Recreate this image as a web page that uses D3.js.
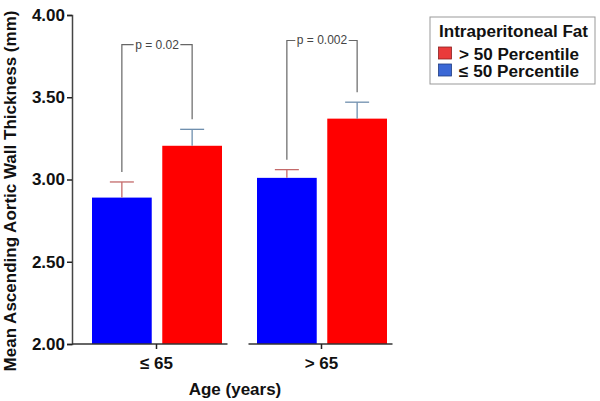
<!DOCTYPE html>
<html><head><meta charset="utf-8">
<script src="https://cdn.jsdelivr.net/npm/d3@7"></script>
<style>body{margin:0;background:#fff}svg{display:block}text{font-family:"Liberation Sans",Arial,sans-serif}</style>
</head><body><svg id="c" width="600" height="401"></svg>
<script>
const categories = ["≤ 65", "> 65"];
const series = ["≤ 50 Percentile", "> 50 Percentile"];
const lowValues = [2.89, 3.01];   // ≤ 50 percentile
const highValues = [3.205, 3.37]; // > 50 percentile
const lowErr = [0.095, 0.05];
const highErr = [0.10, 0.10];
const pLabels = ["p = 0.02", "p = 0.002"];
const bracketLevels = [3.82, 3.845];
const yTicks = [2.0, 2.5, 3.0, 3.5, 4.0];

const svg = d3.select("#c");
const y = d3.scaleLinear().domain([2, 4]).range([344, 15]);
const x0 = d3.scaleBand().domain(categories).range([74, 404]);
const x1 = d3.scaleBand().domain(series).range([18, 148]).paddingInner(0.15);
const barColor = {"≤ 50 Percentile": "#0000ff", "> 50 Percentile": "#ff0000"};
const errColor = {"≤ 50 Percentile": "#c46a6a", "> 50 Percentile": "#6f8fae"};

const rows = [];
categories.forEach((c, i) => {
  rows.push({cat: c, s: series[0], v: lowValues[i], e: lowErr[i]});
  rows.push({cat: c, s: series[1], v: highValues[i], e: highErr[i]});
});

// bars
svg.append("g").selectAll("rect").data(rows).join("rect")
  .attr("x", d => x0(d.cat) + x1(d.s))
  .attr("y", d => y(d.v))
  .attr("width", x1.bandwidth())
  .attr("height", d => y(2) - y(d.v))
  .attr("fill", d => barColor[d.s]);

// error bars
const eg = svg.append("g");
rows.forEach(d => {
  const cx = x0(d.cat) + x1(d.s) + x1.bandwidth() / 2;
  eg.append("line").attr("x1", cx).attr("x2", cx).attr("y1", y(d.v)).attr("y2", y(d.v + d.e))
    .attr("stroke", errColor[d.s]).attr("stroke-width", 1.3);
  eg.append("line").attr("x1", cx - 12).attr("x2", cx + 12).attr("y1", y(d.v + d.e)).attr("y2", y(d.v + d.e))
    .attr("stroke", errColor[d.s]).attr("stroke-width", 1.3);
});

// brackets
const bg = svg.append("g");
categories.forEach((c, i) => {
  const lx = x0(c) + x1(series[0]) + x1.bandwidth() / 2;
  const rx = x0(c) + x1(series[1]) + x1.bandwidth() / 2;
  const ly = y(lowValues[i] + lowErr[i]) - 10;
  const ry = y(highValues[i] + highErr[i]) - 10;
  const by = y(bracketLevels[i]);
  const t = bg.append("text").attr("x", (lx + rx) / 2).attr("y", by + 4)
    .attr("text-anchor", "middle").attr("font-size", 12).attr("fill", "#444").text(pLabels[i]);
  const w = t.node().getComputedTextLength();
  const tl = (lx + rx) / 2 - w / 2 - 1.5, tr = (lx + rx) / 2 + w / 2 + 1.5;
  bg.append("path").attr("d", `M${lx},${ly}V${by}H${tl}M${tr},${by}H${rx}V${ry}`)
    .attr("fill", "none").attr("stroke", "#666").attr("stroke-width", 1.2);
});

// y axis
const yAxis = svg.append("g").attr("transform", "translate(72,0)")
  .call(d3.axisLeft(y).tickValues(yTicks).tickFormat(d3.format(".2f")).tickSize(5).tickPadding(2));
yAxis.select(".domain").attr("stroke", "#444").attr("stroke-width", 1.5);
yAxis.selectAll(".tick line").attr("stroke", "#222").attr("stroke-width", 1.5);
yAxis.selectAll(".tick text").attr("font-size", 17).attr("font-weight", "bold").attr("fill", "#111")
  .attr("font-family", "Liberation Sans, Arial, sans-serif");

// x axis segments
const xg = svg.append("g");
categories.forEach((c, i) => {
  const cx = x0(c) + x0.bandwidth() / 2;
  const start = i === 0 ? 72 : cx - 73;
  xg.append("line").attr("x1", start).attr("x2", cx + 71).attr("y1", y(2)).attr("y2", y(2))
    .attr("stroke", "#333").attr("stroke-width", 1.5);
  xg.append("line").attr("x1", cx).attr("x2", cx).attr("y1", y(2)).attr("y2", y(2) + 5)
    .attr("stroke", "#222").attr("stroke-width", 1.5);
  xg.append("text").attr("x", cx).attr("y", 369).attr("text-anchor", "middle")
    .attr("font-size", 17).attr("font-weight", "bold").attr("fill", "#111").text(c);
});

// axis titles
svg.append("text").attr("x", 235).attr("y", 395).attr("text-anchor", "middle")
  .attr("font-size", 17).attr("font-weight", "bold").attr("fill", "#111").text("Age (years)");
svg.append("text").attr("transform", "translate(16,191) rotate(-90)").attr("text-anchor", "middle")
  .attr("font-size", 17).attr("font-weight", "bold").attr("fill", "#111")
  .text("Mean Ascending Aortic Wall Thickness (mm)");

// legend
const lg = svg.append("g");
lg.append("rect").attr("x", 430).attr("y", 17).attr("width", 165).attr("height", 67)
  .attr("fill", "#fff").attr("stroke", "#999").attr("stroke-width", 1);
lg.append("text").attr("x", 439).attr("y", 37).attr("font-size", 16).attr("font-weight", "bold")
  .attr("fill", "#111").attr("textLength", 149).attr("lengthAdjust", "spacingAndGlyphs")
  .text("Intraperitoneal Fat");
const legendItems = [series[1], series[0]];
const swatch = {"> 50 Percentile": "#ea3b3b", "≤ 50 Percentile": "#3b68d6"};
const swStroke = {"> 50 Percentile": "#8a2020", "≤ 50 Percentile": "#203c80"};
legendItems.forEach((s, i) => {
  const yy = 47 + i * 17;
  lg.append("rect").attr("x", 438.5).attr("y", yy).attr("width", 13).attr("height", 12)
    .attr("fill", swatch[s]).attr("stroke", swStroke[s]).attr("stroke-width", 0.8);
  lg.append("text").attr("x", 459).attr("y", yy + 12.5).attr("font-size", 16).attr("font-weight", "bold")
    .attr("fill", "#111").attr("textLength", 120).attr("lengthAdjust", "spacingAndGlyphs").text(s);
});
</script></body></html>
